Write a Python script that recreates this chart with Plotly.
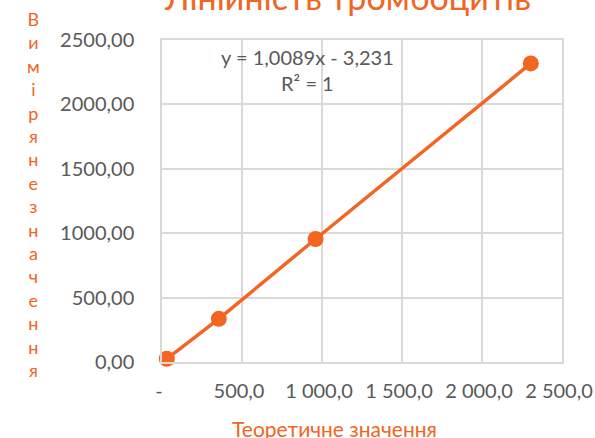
import plotly.graph_objects as go

# Data
theoretical = [30, 355, 960, 2305]
measured = [25, 335, 955, 2318]
x_tick_vals = [0, 500, 1000, 1500, 2000, 2500]
x_tick_text = ["-", "500,0", "1 000,0", "1 500,0", "2 000,0", "2 500,0"]
y_tick_vals = [0, 500, 1000, 1500, 2000, 2500]
y_tick_text = ["0,00", "500,00", "1000,00", "1500,00", "2000,00", "2500,00"]
title_text = "Лінійність тромбоцитів"
x_title = "Теоретичне значення"
y_title = "Виміряне значення"
equation = "y = 1,0089x - 3,231"
r2 = "R² = 1"

ORANGE = "#F26522"
GRAY = "#595959"
GRID = "#D9D9D9"
FONT = "Lato, 'Open Sans', sans-serif"

fig = go.Figure()
fig.add_trace(go.Scatter(
    x=theoretical, y=measured, mode="lines+markers",
    line=dict(color=ORANGE, width=3.5),
    marker=dict(color=ORANGE, size=16),
    showlegend=False, cliponaxis=False,
))

fig.update_layout(
    width=595, height=438,
    margin=dict(l=162, r=33, t=40, b=76, autoexpand=False),
    paper_bgcolor="white", plot_bgcolor="white",
    font=dict(family=FONT, color=GRAY, size=20),
    xaxis=dict(range=[0, 2500], tickvals=x_tick_vals, ticktext=x_tick_text,
               showgrid=True, gridcolor=GRID, gridwidth=1.5, zeroline=False,
               showline=True, linecolor=GRID, linewidth=1.5, mirror=True,
               ticks="", ticklabelstandoff=10, ticklabelshift=-3,
               tickfont=dict(size=20, color=GRAY)),
    yaxis=dict(range=[0, 2500], tickvals=y_tick_vals, ticktext=y_tick_text,
               showgrid=True, gridcolor=GRID, gridwidth=1.5, zeroline=False,
               showline=True, linecolor=GRID, linewidth=1.5, mirror=True,
               ticks="", ticklabelstandoff=22,
               tickfont=dict(size=20, color=GRAY)),
)

vertical_label = "<br>".join(ch for ch in y_title if ch != " ")

fig.add_annotation(text=title_text, xref="paper", yref="paper", x=0.4625, y=1.066,
                   xanchor="center", yanchor="bottom", showarrow=False,
                   font=dict(size=34, color=ORANGE, family=FONT))
fig.add_annotation(text=vertical_label, xref="paper", yref="paper", x=-0.3225, y=0.52,
                   xanchor="center", yanchor="middle", showarrow=False,
                   font=dict(size=18, color=ORANGE, family=FONT))
fig.add_annotation(text=x_title, xref="paper", yref="paper", x=0.43, y=-0.205,
                   xanchor="center", yanchor="middle", showarrow=False,
                   font=dict(size=21, color=ORANGE, family=FONT))
fig.add_annotation(text=equation + "<br>" + r2, xref="paper", yref="paper", x=0.3625, y=0.907,
                   xanchor="center", yanchor="middle", showarrow=False,
                   font=dict(size=20, color=GRAY, family=FONT))

fig.write_html("out.html", config={"displayModeBar": False},
               post_script="document.body.style.margin='0';")
